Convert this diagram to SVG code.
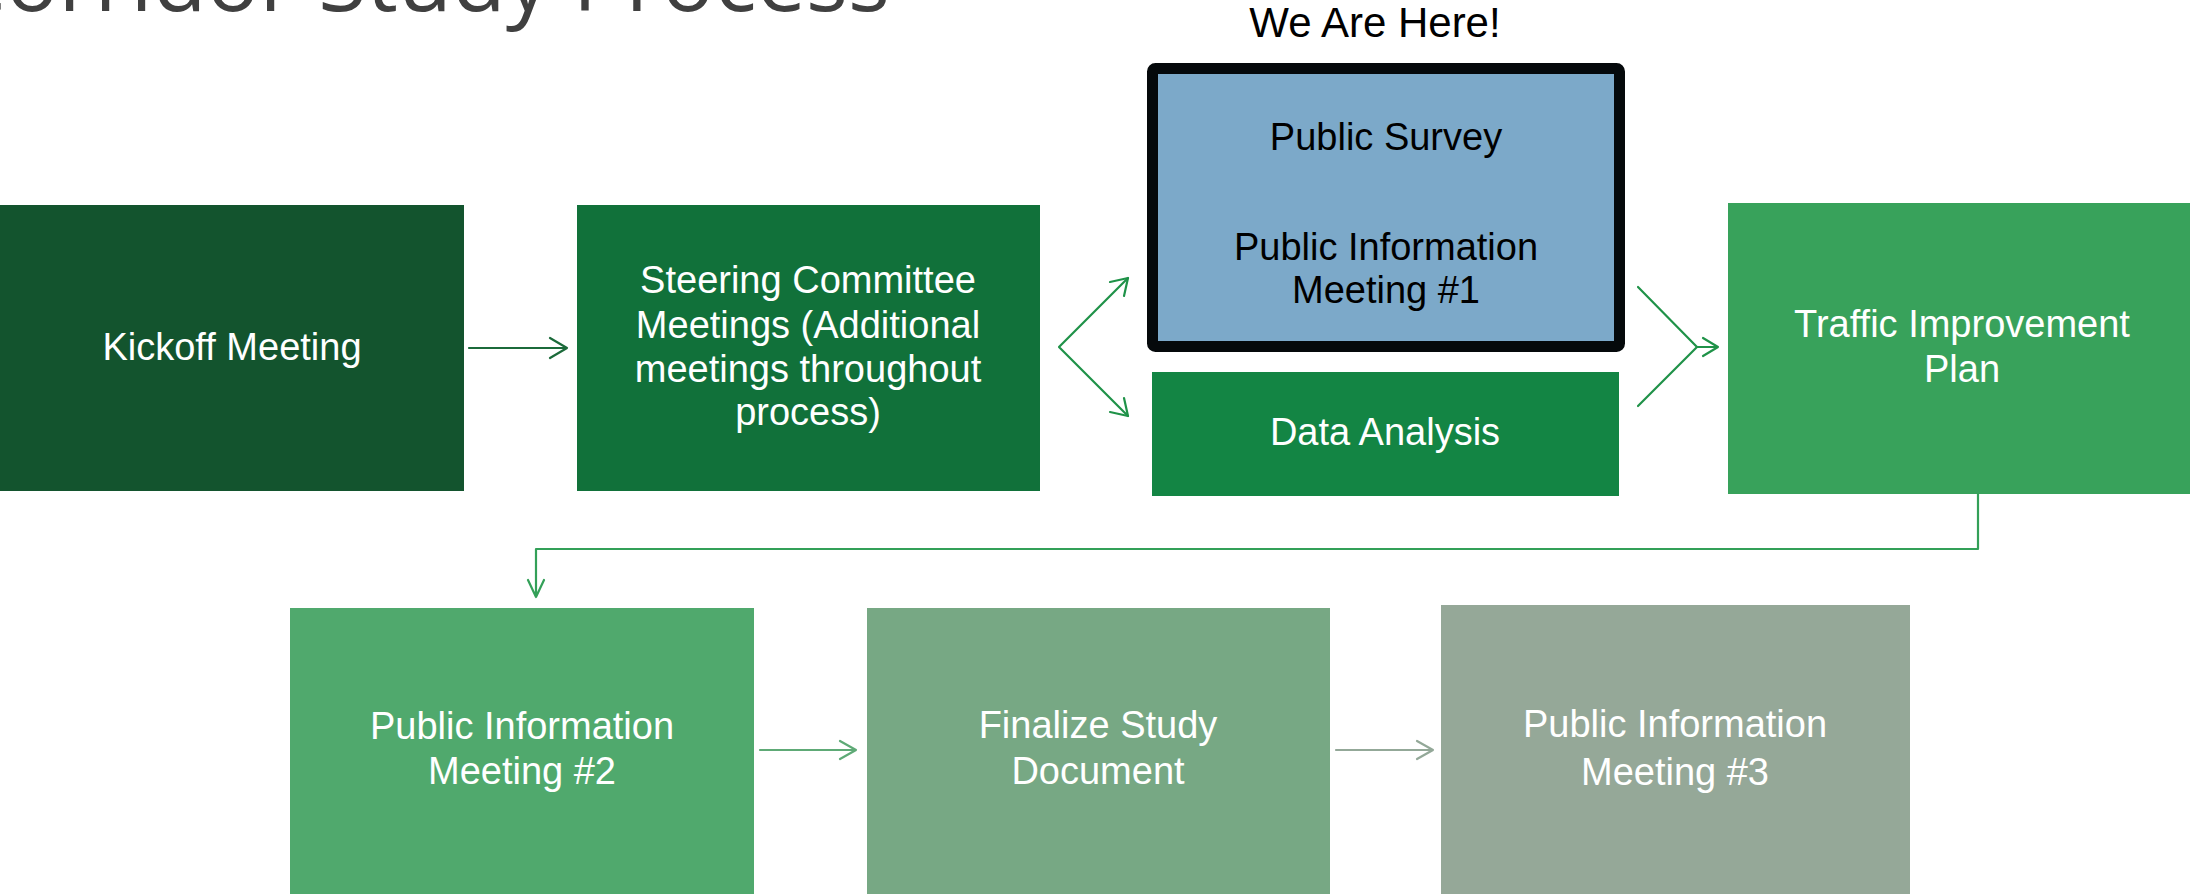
<svg xmlns="http://www.w3.org/2000/svg" width="2190" height="894" viewBox="0 0 2190 894">
<style>
.t{font-family:"Liberation Sans",Arial,sans-serif;font-size:38px;text-anchor:middle;fill:#ffffff}
.k{fill:#000000}
.c{fill:none;stroke-width:2.2;stroke-linecap:round;stroke-linejoin:round}
</style>
<rect width="2190" height="894" fill="#ffffff"/>
<text id="title" x="890" y="11" font-family="'Open Sans','Liberation Sans',sans-serif" font-size="88" fill="#404040" text-anchor="end">Corridor Study Process</text>
<text id="here" x="1375" y="37" font-family="'Liberation Sans',Arial,sans-serif" font-size="42" fill="#000000" text-anchor="middle">We Are Here!</text>

<g id="kickoff">
<rect x="0" y="205" width="464" height="286" fill="#13542E"/>
<text class="t" x="232" y="360">Kickoff Meeting</text>
</g>
<g id="steering">
<rect x="577" y="205" width="463" height="286" fill="#11713A"/>
<text class="t" x="808" y="293">Steering Committee</text>
<text class="t" x="808" y="338">Meetings (Additional</text>
<text class="t" x="808" y="382">meetings throughout</text>
<text class="t" x="808" y="425">process)</text>
</g>
<g id="survey">
<rect x="1152.5" y="68.5" width="467" height="278" rx="3" fill="#7CA9C9" stroke="#05090B" stroke-width="11"/>
<text class="t k" x="1386" y="150">Public Survey</text>
<text class="t k" x="1386" y="260">Public Information</text>
<text class="t k" x="1386" y="303">Meeting #1</text>
</g>
<g id="data">
<rect x="1152" y="372" width="467" height="124" fill="#138544"/>
<text class="t" x="1385" y="445">Data Analysis</text>
</g>
<g id="traffic">
<rect x="1728" y="203" width="468" height="291" fill="#38A25B"/>
<text class="t" x="1962" y="337">Traffic Improvement</text>
<text class="t" x="1962" y="382">Plan</text>
</g>
<g id="pim2">
<rect x="290" y="608" width="464" height="290" fill="#50A96D"/>
<text class="t" x="522" y="739">Public Information</text>
<text class="t" x="522" y="784">Meeting #2</text>
</g>
<g id="finalize">
<rect x="867" y="608" width="463" height="290" fill="#77A884"/>
<text class="t" x="1098" y="738">Finalize Study</text>
<text class="t" x="1098" y="784">Document</text>
</g>
<g id="pim3">
<rect x="1441" y="605" width="469" height="293" fill="#95A898"/>
<text class="t" x="1675" y="737">Public Information</text>
<text class="t" x="1675" y="785">Meeting #3</text>
</g>

<g id="connectors">
<path class="c" stroke="#1B6A3A" d="M469 348 H567 M550 338 L567 348 L550 358"/>
<path class="c" stroke="#1F9248" d="M1128 278 L1059 347 L1128 416"/>
<path class="c" stroke="#1F9248" d="M1110 282 L1128 278 L1124 296"/>
<path class="c" stroke="#1F9248" d="M1110 412 L1128 416 L1124 398"/>
<path class="c" stroke="#1F9248" d="M1638 287 L1697 347 L1638 406 M1697 347 H1718 M1703 338 L1718 347 L1703 356"/>
<path class="c" stroke="#33A058" d="M1978 494 V549 H536 V597 M528 580 L536 597 L544 580"/>
<path class="c" stroke="#5EAA76" d="M760 750 H856 M840 741 L856 750 L840 759"/>
<path class="c" stroke="#93A898" d="M1336 750 H1433 M1417 741 L1433 750 L1417 759"/>
</g>
</svg>
